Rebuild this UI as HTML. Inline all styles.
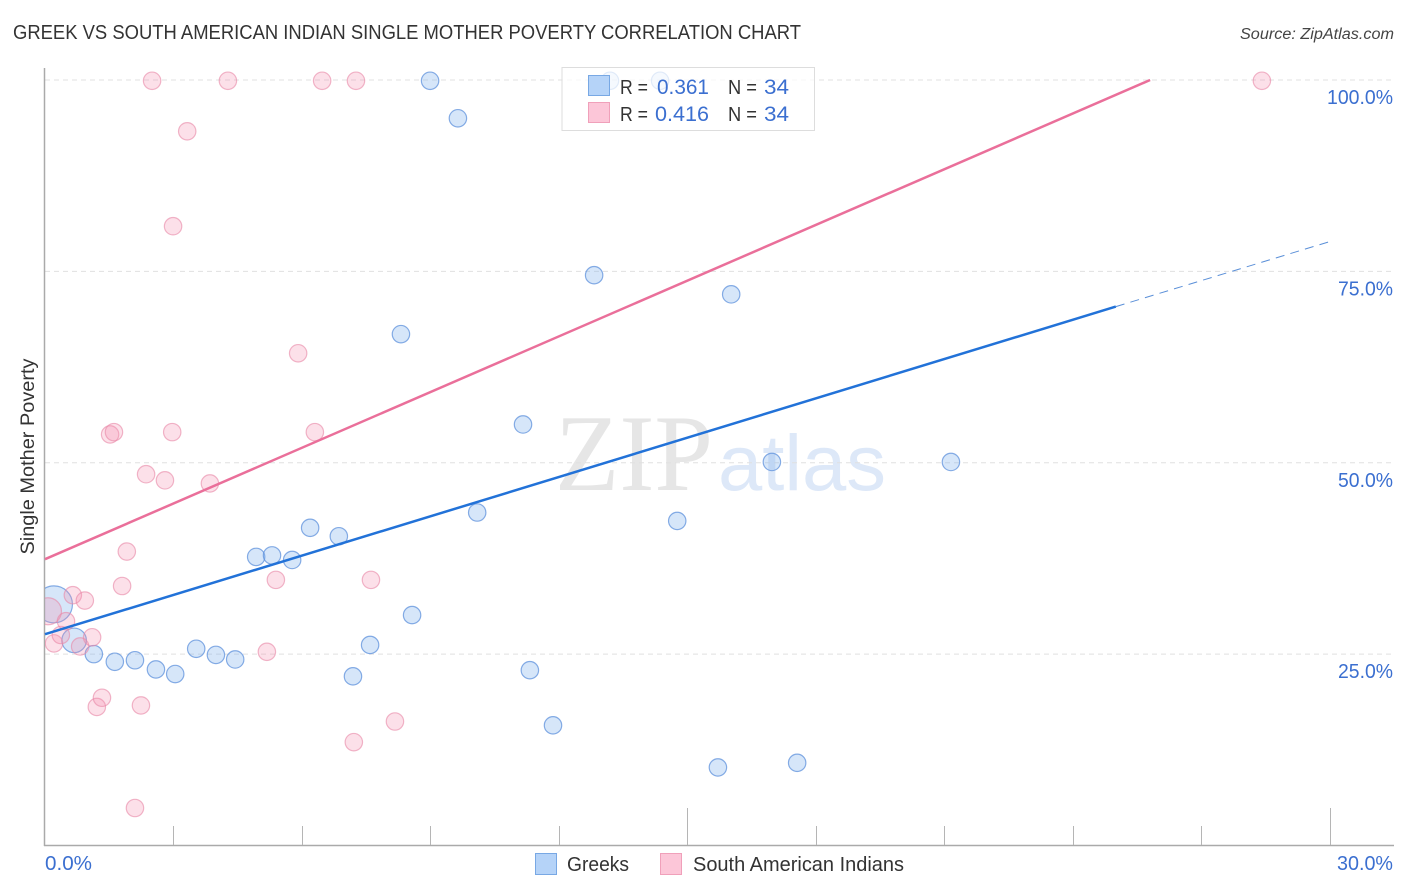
<!DOCTYPE html>
<html lang="en">
<head>
<meta charset="utf-8">
<title>Greek vs South American Indian Single Mother Poverty Correlation Chart</title>
<style>
html,body{margin:0;padding:0;background:#fff;}
body{width:1406px;height:892px;overflow:hidden;}
svg{display:block;font-family:"Liberation Sans",sans-serif;}
</style>
</head>
<body>
<svg id="chart" xmlns="http://www.w3.org/2000/svg" width="1406" height="892" viewBox="0 0 1406 892">
  <defs>
    <clipPath id="plot-clip"><rect x="45" y="60" width="1350" height="785"/></clipPath>
  </defs>
  <text x="13" y="39" font-size="20" fill="#333" textLength="788" lengthAdjust="spacingAndGlyphs">GREEK VS SOUTH AMERICAN INDIAN SINGLE MOTHER POVERTY CORRELATION CHART</text>
  <text x="1394" y="39" font-size="15.5" font-style="italic" fill="#444" text-anchor="end" textLength="154" lengthAdjust="spacingAndGlyphs">Source: ZipAtlas.com</text>
  <g>
    <text x="555" y="490" font-family="'Liberation Serif',serif" font-size="109" fill="#e6e6e6" textLength="158" lengthAdjust="spacingAndGlyphs">ZIP</text>
    <text x="718" y="490" font-size="79" fill="#dde8f8" textLength="168" lengthAdjust="spacingAndGlyphs">atlas</text>
  </g>
  <g id="grid"></g>
  <g id="axes"></g>
  <g id="greek-points" clip-path="url(#plot-clip)"></g>
  <g id="pink-points" clip-path="url(#plot-clip)"></g>
  <g id="trends"></g>
  <text transform="translate(34,456.5) rotate(-90)" font-size="19.5" fill="#333" text-anchor="middle" textLength="196" lengthAdjust="spacingAndGlyphs">Single Mother Poverty</text>
  <g>
    <rect x="562" y="67.5" width="252.5" height="63" fill="#fff" fill-opacity="0.75" stroke="#ddd" stroke-width="1"/>
    <rect x="588.5" y="75.5" width="21" height="20" fill="#b5d3f8" stroke="#78a8e4" stroke-width="1"/>
    <rect x="588.5" y="102.5" width="21" height="20" fill="#fcc6d8" stroke="#f0a0ba" stroke-width="1"/>
    <text x="620" y="94" font-size="20.5" fill="#333" textLength="28" lengthAdjust="spacingAndGlyphs">R =</text>
    <text x="657" y="94" font-size="21.5" fill="#3b6fd0" textLength="52" lengthAdjust="spacingAndGlyphs">0.361</text>
    <text x="728" y="94" font-size="20.5" fill="#333" textLength="29" lengthAdjust="spacingAndGlyphs">N =</text>
    <text x="764" y="94" font-size="21.5" fill="#3b6fd0" textLength="25" lengthAdjust="spacingAndGlyphs">34</text>
    <text x="620" y="121" font-size="20.5" fill="#333" textLength="28" lengthAdjust="spacingAndGlyphs">R =</text>
    <text x="655" y="121" font-size="21.5" fill="#3b6fd0" textLength="54" lengthAdjust="spacingAndGlyphs">0.416</text>
    <text x="728" y="121" font-size="20.5" fill="#333" textLength="29" lengthAdjust="spacingAndGlyphs">N =</text>
    <text x="764" y="121" font-size="21.5" fill="#3b6fd0" textLength="25" lengthAdjust="spacingAndGlyphs">34</text>
  </g>
  <g>
    <rect x="535.5" y="853.5" width="21" height="21" fill="#b5d3f8" stroke="#78a8e4" stroke-width="1"/>
    <text x="567" y="871" font-size="20" fill="#333" textLength="62" lengthAdjust="spacingAndGlyphs">Greeks</text>
    <rect x="660.5" y="853.5" width="21" height="21" fill="#fcc6d8" stroke="#f0a0ba" stroke-width="1"/>
    <text x="693" y="871" font-size="20" fill="#333" textLength="211" lengthAdjust="spacingAndGlyphs">South American Indians</text>
  </g>
</svg>
<script>
const yTicks = [25, 50, 75, 100];
const yTickLabels = ["25.0%", "50.0%", "75.0%", "100.0%"];
const xTicks = [0, 3, 6, 9, 12, 15, 18, 21, 24, 27, 30];
const xTallTicks = [15, 30];
const xEndLabels = ["0.0%", "30.0%"];

const greekX = [0.21,0.68,1.14,1.63,2.10,2.59,3.04,3.53,3.99,4.44,4.93,5.30,5.77,6.19,6.86,7.19,7.59,8.57,8.31,8.99,9.64,10.09,11.16,11.32,11.86,12.82,13.19,14.36,14.76,15.71,16.02,16.97,17.56,21.15];
const greekY = [31.5,26.8,25.0,24.0,24.2,23.0,22.4,25.7,24.9,24.3,37.7,37.9,37.3,41.5,40.4,22.1,26.2,30.1,66.8,99.9,95.0,43.5,55.0,22.9,15.7,74.5,99.9,99.9,42.4,10.2,72.0,50.1,10.8,50.1];
const greekWeight = [4.5,2,1,1,1,1,1,1,1,1,1,1,1,1,1,1,1,1,1,1,1,1,1,1,1,1,1,1,1,1,1,1,1,1];

const pinkX = [0.07,0.21,0.37,0.49,0.65,0.93,0.82,1.10,1.21,1.33,1.52,1.61,1.80,1.91,2.10,2.24,2.36,2.50,2.80,2.97,2.99,3.32,3.85,4.27,5.18,5.39,5.91,6.30,6.47,7.21,7.26,7.61,8.17,28.41];
const pinkY = [30.6,26.4,27.5,29.3,32.7,32.0,26.0,27.2,18.1,19.3,53.7,54.0,33.9,38.4,4.9,18.3,48.5,99.9,47.7,54.0,80.9,93.3,47.3,99.9,25.3,34.7,64.3,54.0,99.9,13.5,99.9,34.7,16.2,99.9];
const pinkWeight = [2.4,1,1,1,1,1,1,1,1,1,1,1,1,1,1,1,1,1,1,1,1,1,1,1,1,1,1,1,1,1,1,1,1,1];

const greekTrendX = [0, 25];
const greekTrendY = [27.6, 70.4];
const greekForecastX = [25, 30];
const greekForecastY = [70.4, 78.9];
const pinkTrendX = [0, 25.8];
const pinkTrendY = [37.4, 100];

const NS = "http://www.w3.org/2000/svg";
function xScale(v) { return 45 + v / 30 * 1285; }
function yScale(v) { return 845.5 - v * 7.655; }
function rScale(w) { return 8.7 * Math.sqrt(w); }

function make(tag, parent, attrs) {
  const el = document.createElementNS(NS, tag);
  for (const k in attrs) el.setAttribute(k, attrs[k]);
  parent.appendChild(el);
  return el;
}

const grid = document.getElementById("grid");
yTicks.forEach(function (t) {
  const line = make("line", grid, {x1: 45, x2: 1393, y1: yScale(t), y2: yScale(t), stroke: "#e0e0e0", "stroke-width": 1, "stroke-dasharray": "5 4"});
  
  
});

const axes = document.getElementById("axes");
const yAxis = make("line", axes, {x1: 44.5, x2: 44.5, y1: 68, y2: 846, stroke: "#aaa", "stroke-width": 1.5});


const xAxis = make("line", axes, {x1: 44, x2: 1394, y1: 845.5, y2: 845.5, stroke: "#aaa", "stroke-width": 1.5});



xTicks.slice(1).forEach(function (t) {
  const top = xTallTicks.indexOf(t) >= 0 ? 808 : 826;
  const tick = make("line", axes, {x1: Math.floor(xScale(t)) + 0.5, x2: Math.floor(xScale(t)) + 0.5, y1: top, y2: 845, stroke: "#b5b5b5", "stroke-width": 1});
  
  
});

yTicks.forEach(function (t, i) {
  const label = make("text", axes, {x: 1393, y: yScale(t) + 24, "font-size": 20, fill: "#3b6fd0", "text-anchor": "end", textLength: yTickLabels[i].length * 11, lengthAdjust: "spacingAndGlyphs"});
  label.textContent = yTickLabels[i];
  
  
});

const xLabelLeft = make("text", axes, {x: 45, y: 870, "font-size": 20, fill: "#3b6fd0", textLength: 47, lengthAdjust: "spacingAndGlyphs"});
xLabelLeft.textContent = xEndLabels[0];


const xLabelRight = make("text", axes, {x: 1393, y: 870, "font-size": 20, fill: "#3b6fd0", "text-anchor": "end", textLength: 56, lengthAdjust: "spacingAndGlyphs"});
xLabelRight.textContent = xEndLabels[1];



const greekGroup = document.getElementById("greek-points");
greekX.forEach(function (x, i) {
  const c = make("circle", greekGroup, {cx: xScale(x), cy: yScale(greekY[i]), r: rScale(greekWeight[i]), fill: "#7fb0ec", "fill-opacity": 0.32, stroke: "#5f92dc", "stroke-opacity": 0.75, "stroke-width": 1.2});
  
  
});

const pinkGroup = document.getElementById("pink-points");
pinkX.forEach(function (x, i) {
  const c = make("circle", pinkGroup, {cx: xScale(x), cy: yScale(pinkY[i]), r: rScale(pinkWeight[i]), fill: "#f58fb0", "fill-opacity": 0.28, stroke: "#e889a8", "stroke-opacity": 0.62, "stroke-width": 1.2});
  
  
});

const trends = document.getElementById("trends");
const pinkLine = make("line", trends, {x1: xScale(pinkTrendX[0]), y1: yScale(pinkTrendY[0]), x2: xScale(pinkTrendX[1]), y2: yScale(pinkTrendY[1]), stroke: "#ea6f9a", "stroke-width": 2.5});


const greekLine = make("line", trends, {x1: xScale(greekTrendX[0]), y1: yScale(greekTrendY[0]), x2: xScale(greekTrendX[1]), y2: yScale(greekTrendY[1]), stroke: "#2272d8", "stroke-width": 2.5});


const greekDash = make("line", trends, {x1: xScale(greekForecastX[0]), y1: yScale(greekForecastY[0]), x2: xScale(greekForecastX[1]), y2: yScale(greekForecastY[1]), stroke: "#5a8fd8", "stroke-width": 1, "stroke-dasharray": "9 6.2"});


</script>
</body>
</html>
